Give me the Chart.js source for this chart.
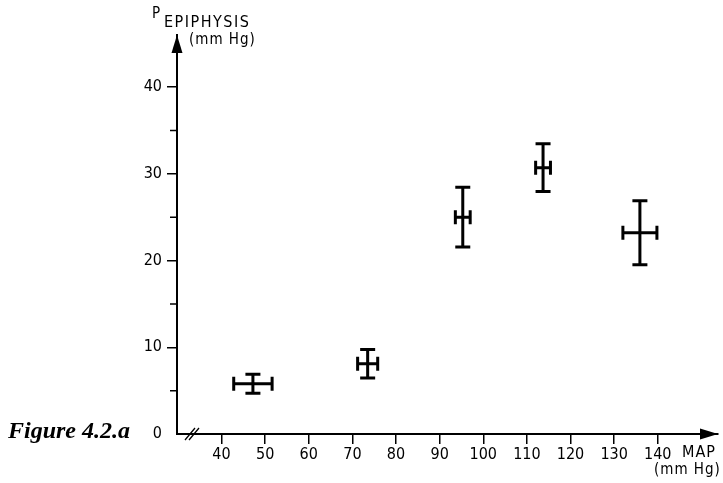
<!DOCTYPE html>
<html>
<head>
<meta charset="utf-8">
<script src="https://cdn.jsdelivr.net/npm/chart.js@4/dist/chart.umd.min.js"></script>
<style>
  html, body { margin: 0; padding: 0; background: #fff; }
  canvas { display: block; }
</style>
</head>
<body>
<canvas id="chart" width="723" height="483"></canvas>
<script>
// MAP (mm Hg) vs P epiphysis (mm Hg), means with error bars
const mapValues = [47.2, 73.5, 95.3, 113.7, 135.9];
const mapErrors = [4.4, 2.3, 1.7, 1.7, 3.9];
const pValues = [5.8, 8.1, 25.0, 30.7, 23.2];
const pErrors = [1.1, 1.65, 3.45, 2.75, 3.7];

const xTicks = [40, 50, 60, 70, 80, 90, 100, 110, 120, 130, 140];
const yTicks = [0, 10, 20, 30, 40];
const yMinorTicks = [5, 15, 25, 35];

const tickFont = { family: 'DejaVu Sans Condensed', size: 16 };

// error bars, axis arrows, minor ticks, axis break and the captions
const decor = {
  id: 'decor',
  afterDatasetsDraw(chart) {
    const { ctx, chartArea: a, scales: { x, y } } = chart;
    ctx.save();
    ctx.strokeStyle = '#000';
    ctx.fillStyle = '#000';
    ctx.lineCap = 'butt';

    // error bars
    ctx.lineWidth = 3;
    mapValues.forEach((m, i) => {
      const cx = x.getPixelForValue(m);
      const cy = y.getPixelForValue(pValues[i]);
      const x0 = x.getPixelForValue(m - mapErrors[i]);
      const x1 = x.getPixelForValue(m + mapErrors[i]);
      const y0 = y.getPixelForValue(pValues[i] + pErrors[i]);
      const y1 = y.getPixelForValue(pValues[i] - pErrors[i]);
      ctx.beginPath();
      ctx.moveTo(cx, y0); ctx.lineTo(cx, y1);
      ctx.moveTo(cx - 7.5, y0); ctx.lineTo(cx + 7.5, y0);
      ctx.moveTo(cx - 7.5, y1); ctx.lineTo(cx + 7.5, y1);
      ctx.moveTo(x0, cy); ctx.lineTo(x1, cy);
      ctx.moveTo(x0, cy - 7); ctx.lineTo(x0, cy + 7);
      ctx.moveTo(x1, cy - 7); ctx.lineTo(x1, cy + 7);
      ctx.stroke();
    });

    // minor y ticks
    ctx.lineWidth = 1.5;
    ctx.beginPath();
    yMinorTicks.forEach(v => {
      const py = y.getPixelForValue(v);
      ctx.moveTo(a.left - 7, py); ctx.lineTo(a.left, py);
    });
    ctx.stroke();

    // arrow heads
    ctx.beginPath();
    ctx.moveTo(a.left, a.top);
    ctx.lineTo(a.left - 5.5, a.top + 18);
    ctx.lineTo(a.left + 5.5, a.top + 18);
    ctx.closePath();
    ctx.fill();
    ctx.beginPath();
    ctx.moveTo(a.right, a.bottom);
    ctx.lineTo(a.right - 18, a.bottom - 5.5);
    ctx.lineTo(a.right - 18, a.bottom + 5.5);
    ctx.closePath();
    ctx.fill();

    // axis break //
    ctx.lineWidth = 1.3;
    ctx.beginPath();
    ctx.moveTo(a.left + 8, a.bottom + 6); ctx.lineTo(a.left + 18, a.bottom - 6);
    ctx.moveTo(a.left + 12, a.bottom + 6); ctx.lineTo(a.left + 22, a.bottom - 6);
    ctx.stroke();

    // axis titles
    ctx.textBaseline = 'middle';
    ctx.textAlign = 'left';
    ctx.font = '15px "DejaVu Sans Condensed"';
    ctx.fillText('P', 152, 14);
    ctx.letterSpacing = '1.5px';
    ctx.font = '16px "DejaVu Sans Condensed"';
    ctx.fillText('EPIPHYSIS', 164, 23);
    ctx.letterSpacing = '1px';
    ctx.font = '15px "DejaVu Sans Condensed"';
    ctx.fillText('(mm Hg)', 189, 40);
    ctx.fillText('(mm Hg)', 654, 470);
    ctx.font = '16px "DejaVu Sans Condensed"';
    ctx.fillText('MAP', 682, 453);

    // figure caption
    ctx.letterSpacing = '0px';
    ctx.font = 'italic bold 24px "Liberation Serif"';
    ctx.fillText('Figure 4.2.a', 8, 432);
    ctx.restore();
  }
};

new Chart(document.getElementById('chart').getContext('2d'), {
  type: 'scatter',
  data: {
    datasets: [{
      data: mapValues.map((m, i) => ({ x: m, y: pValues[i] })),
      pointRadius: 0,
      showLine: false
    }]
  },
  options: {
    responsive: false,
    animation: false,
    devicePixelRatio: 1,
    layout: { padding: { top: 35, right: 5, left: 0, bottom: 0 } },
    plugins: { legend: { display: false }, tooltip: { enabled: false } },
    scales: {
      x: {
        type: 'linear',
        min: 29.8,
        max: 153.8,
        afterBuildTicks: s => { s.ticks = xTicks.map(v => ({ value: v })); },
        afterFit: s => { s.height = 49; },
        border: { display: true, color: '#000', width: 2 },
        grid: { drawOnChartArea: false, drawTicks: true, tickLength: 10, color: '#000', lineWidth: 1.5 },
        ticks: { color: '#000', font: tickFont, padding: 1, maxRotation: 0, autoSkip: false }
      },
      y: {
        type: 'linear',
        min: 0,
        max: 46,
        afterBuildTicks: s => { s.ticks = yTicks.map(v => ({ value: v })); },
        afterFit: s => { s.width = 177; },
        border: { display: true, color: '#000', width: 2 },
        grid: {
          drawOnChartArea: false, drawTicks: true, tickLength: 10, lineWidth: 1.5,
          tickColor: c => (c.tick && c.tick.value === 0 ? 'rgba(0,0,0,0)' : '#000'),
          color: '#000'
        },
        ticks: { color: '#000', font: tickFont, padding: 5 }
      }
    }
  },
  plugins: [decor]
});
</script>
</body>
</html>
